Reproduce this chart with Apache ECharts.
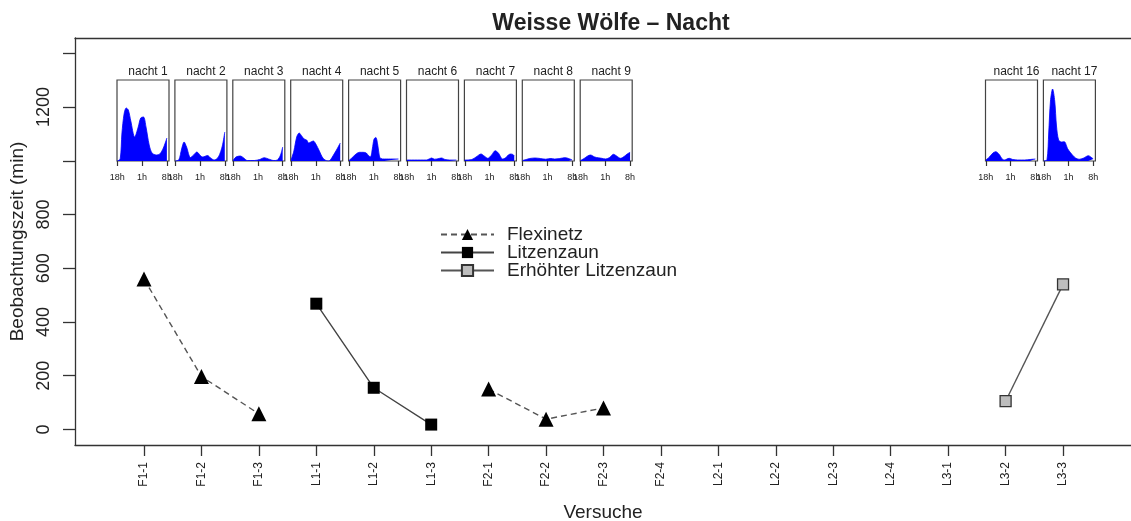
<!DOCTYPE html>
<html><head><meta charset="utf-8">
<script src="https://cdn.jsdelivr.net/npm/echarts@6/dist/echarts.min.js"></script>
<style>html,body{margin:0;padding:0;background:#fff}#c{width:1131px;height:521px}</style>
</head><body><div id="c"></div>
<script>
// ---- data ----
const trials = ['F1-1','F1-2','F1-3','L1-1','L1-2','L1-3','F2-1','F2-2','F2-3','F2-4','L2-1','L2-2','L2-3','L2-4','L3-1','L3-2','L3-3'];
const flexinetz  = [560,197,58,null,null,null,150,38,80,null,null,null,null,null,null,null,null];
const litzenzaun = [null,null,null,468,155,18,null,null,null,null,null,null,null,null,null,null,null];
const erhoehter  = [null,null,null,null,null,null,null,null,null,null,null,null,null,null,null,105,540];
const yTicks  = [0,200,400,600,800,1000,1200,1400];
const yLabels = [0,200,400,600,800,1200];
const hourTicks  = [0,7,14];
const hourLabels = ['18h','1h','8h'];
const nightNames = ['nacht 1','nacht 2','nacht 3','nacht 4','nacht 5','nacht 6','nacht 7','nacht 8','nacht 9','nacht 16','nacht 17'];
const nightTrial = [0,1,2,3,4,5,6,7,8,15,16];
const night1  = [[0,0],[0.8,2],[1.3,28],[1.9,47],[2.5,53],[3.1,51],[3.8,40],[4.9,24],[5.9,34],[6.6,43],[7.4,44],[8.1,34],[9,16],[9.8,8],[11,6],[12,7],[13,13],[14,23]];
const night2  = [[0,0],[1,1],[1.8,12],[2.5,19],[3.2,14],[4.3,3.5],[5.2,6],[6.1,9],[7.2,5],[7.8,4],[9.1,5.5],[10,3],[11,1],[12.2,4],[13.3,15],[14,29]];
const night3  = [[0,0.5],[0.8,4],[2,5],[3,3],[4,0.5],[6,0.5],[7.5,1.5],[8.8,3.3],[10,2],[11.5,0.5],[12.5,1],[13.4,6],[14,14]];
const night4  = [[0,1],[0.8,10],[1.6,24],[2.3,28],[3,25],[3.7,22],[4.4,21],[5,18],[5.6,19],[6.3,20],[7,17],[8,10],[8.8,4],[9.6,1],[10.5,0],[11,0.5],[12,6],[13,12],[13.9,18]];
const night5  = [[0,0.5],[0.8,3],[2,7],[3,8.7],[4,8.7],[4.9,8],[5.6,5],[6.1,4.3],[6.6,12],[7.1,22],[7.6,23.5],[8.1,17],[8.6,5],[9,2.5],[10,2],[14,2]];
const night6  = [[0,1],[5.5,1],[6.3,2],[7,3],[7.8,1.8],[8.5,2],[9.8,3],[10.8,1.5],[12,1],[14,1]];
const night7  = [[0,1],[2,1.5],[3.2,4],[4.6,7],[5.5,5],[6.5,2.7],[7.6,6],[8.6,10.3],[9.5,8],[10.7,2],[11.5,3],[12.3,6],[13,7],[13.6,6.5],[14,5]];
const night8  = [[0,0.5],[1,1.5],[2,2.5],[3.5,3],[5,2.5],[6.5,1.8],[8,2.5],[9,2],[10.5,2.5],[12,3.3],[13,2.5],[14,1]];
const night9  = [[0,0.5],[1,2.5],[2,5],[2.8,6],[4,4],[5,3.2],[6,2.7],[7,2],[8.2,3.5],[9.3,6.7],[10.2,5],[11.3,2.7],[12.3,4.5],[13.2,7],[14,8.7]];
const night16 = [[0,1],[1,4],[2,8],[2.8,9.3],[3.8,6.5],[4.6,2],[5.2,1],[6.6,2.7],[7.6,1.5],[9,1],[11,1],[12.5,1.5],[14,2]];
const night17 = [[0,0],[0.9,1],[1.4,28],[1.9,60],[2.5,72],[3.1,60],[3.6,35],[4.2,21],[5,19],[5.8,19.3],[6.8,12],[8.1,6],[9,3],[10,1.7],[11.3,3],[12.6,5.3],[13.5,3.5],[14,2]];
const nightData = [night1,night2,night3,night4,night5,night6,night7,night8,night9,night16,night17];

// ---- layout ----
const FONT = "'Liberation Sans', Arial, Helvetica, sans-serif";
const INK = '#222';
const insetLeft0 = 117, insetStep = 57.9, insetW = 52, insetTop = 80, insetH = 81;

const toPairs = arr => arr.map((v, i) => [i, v == null ? '-' : v]);
const frameLine = () => ({ show: true, onZero: false, lineStyle: { color: '#333', width: 1.3 } });

const grids = [{ left: 75, top: 38, right: 0, bottom: 76, show: false, containLabel: false, outerBoundsMode: 'none' }];
const xAxes = [{
  type: 'value', gridIndex: 0, min: -1.201, max: 17.183, position: 'bottom',
  splitLine: { show: false },
  axisLine: frameLine(),
  axisTick: { show: true, customValues: trials.map((t, i) => i), length: 11, lineStyle: { color: '#333', width: 1.3 } },
  axisLabel: { customValues: trials.map((t, i) => i), formatter: v => trials[Math.round(v)] || '', rotate: 90, margin: 17, fontSize: 12, color: INK, fontFamily: FONT },
  name: 'Versuche', nameLocation: 'middle', nameGap: 58, nameTextStyle: { fontSize: 19, color: INK, fontFamily: FONT }
}, {
  type: 'value', gridIndex: 0, min: -1.201, max: 17.183, position: 'top',
  splitLine: { show: false }, axisLine: frameLine(), axisTick: { show: false }, axisLabel: { show: false }
}];
const yAxes = [{
  type: 'value', gridIndex: 0, min: -58, max: 1457, position: 'left',
  splitLine: { show: false },
  axisLine: frameLine(),
  axisTick: { show: true, customValues: yTicks, length: 12, lineStyle: { color: '#333', width: 1.3 } },
  axisLabel: { customValues: yLabels, formatter: v => String(v), rotate: 90, margin: 22, fontSize: 18, color: INK, fontFamily: FONT },
  name: 'Beobachtungszeit (min)', nameLocation: 'middle', nameGap: 48, nameTextStyle: { fontSize: 19, color: INK, fontFamily: FONT }
}];
const titles = [{ text: 'Weisse Wölfe – Nacht', left: 606, top: 7, textAlign: 'center', textStyle: { fontSize: 23, fontWeight: 'bold', color: INK, fontFamily: FONT } }];

const series = [
  { name: 'Flexinetz', type: 'line', xAxisIndex: 0, yAxisIndex: 0, data: toPairs(flexinetz), connectNulls: false,
    symbol: 'triangle', symbolSize: 15, itemStyle: { color: '#000' }, lineStyle: { color: '#555', width: 1.4, type: [6, 4] } },
  { name: 'Litzenzaun', type: 'line', xAxisIndex: 0, yAxisIndex: 0, data: toPairs(litzenzaun), connectNulls: false,
    symbol: 'rect', symbolSize: 12, itemStyle: { color: '#000' }, lineStyle: { color: '#444', width: 1.4 } },
  { name: 'Erhöhter Litzenzaun', type: 'line', xAxisIndex: 0, yAxisIndex: 0, data: toPairs(erhoehter), connectNulls: false,
    symbol: 'rect', symbolSize: 11, itemStyle: { color: '#bdbdbd', borderColor: '#333', borderWidth: 1.3 }, lineStyle: { color: '#555', width: 1.4 } }
];

nightData.forEach((d, k) => {
  const gi = grids.length;
  const left = insetLeft0 + insetStep * nightTrial[k];
  grids.push({ left: left, top: insetTop, width: insetW, height: insetH, show: true, borderColor: '#444', borderWidth: 1.2, backgroundColor: '#fff', containLabel: false, outerBoundsMode: 'none' });
  const xi = xAxes.length;
  xAxes.push({
    type: 'value', gridIndex: gi, min: -0.1, max: 14.6,
    splitLine: { show: false },
    axisLine: { show: false, onZero: false },
    axisTick: { show: true, customValues: hourTicks, length: 5, lineStyle: { color: '#333', width: 1.2 } },
    axisLabel: { customValues: hourTicks, formatter: v => hourLabels[hourTicks.indexOf(Math.round(v))] || '', margin: 12, fontSize: 9, color: INK, fontFamily: FONT }
  });
  const yi = yAxes.length;
  yAxes.push({ type: 'value', gridIndex: gi, min: 0, max: 81, show: false });
  titles.push({ text: nightNames[k], left: left + insetW / 2, top: 61, textAlign: 'center', textStyle: { fontSize: 12, fontWeight: 'normal', color: INK, fontFamily: FONT } });
  series.push({ type: 'line', xAxisIndex: xi, yAxisIndex: yi, data: d, smooth: 0.3, symbol: 'none',
    lineStyle: { width: 0.8, color: '#0000ff' }, areaStyle: { color: '#0000ff', opacity: 1 }, silent: true });
});

const chart = echarts.init(document.getElementById('c'), null, { renderer: 'canvas' });
chart.setOption({
  animation: false,
  backgroundColor: '#fff',
  title: titles,
  legend: {
    orient: 'vertical', left: 435, top: 220, itemWidth: 53, itemHeight: 14, itemGap: -1,
    data: ['Flexinetz', 'Litzenzaun', 'Erhöhter Litzenzaun'],
    textStyle: { fontSize: 19, lineHeight: 17, color: INK, fontFamily: FONT, padding: [0, 0, 0, 8] }
  },
  grid: grids, xAxis: xAxes, yAxis: yAxes, series: series
});
</script></body></html>
